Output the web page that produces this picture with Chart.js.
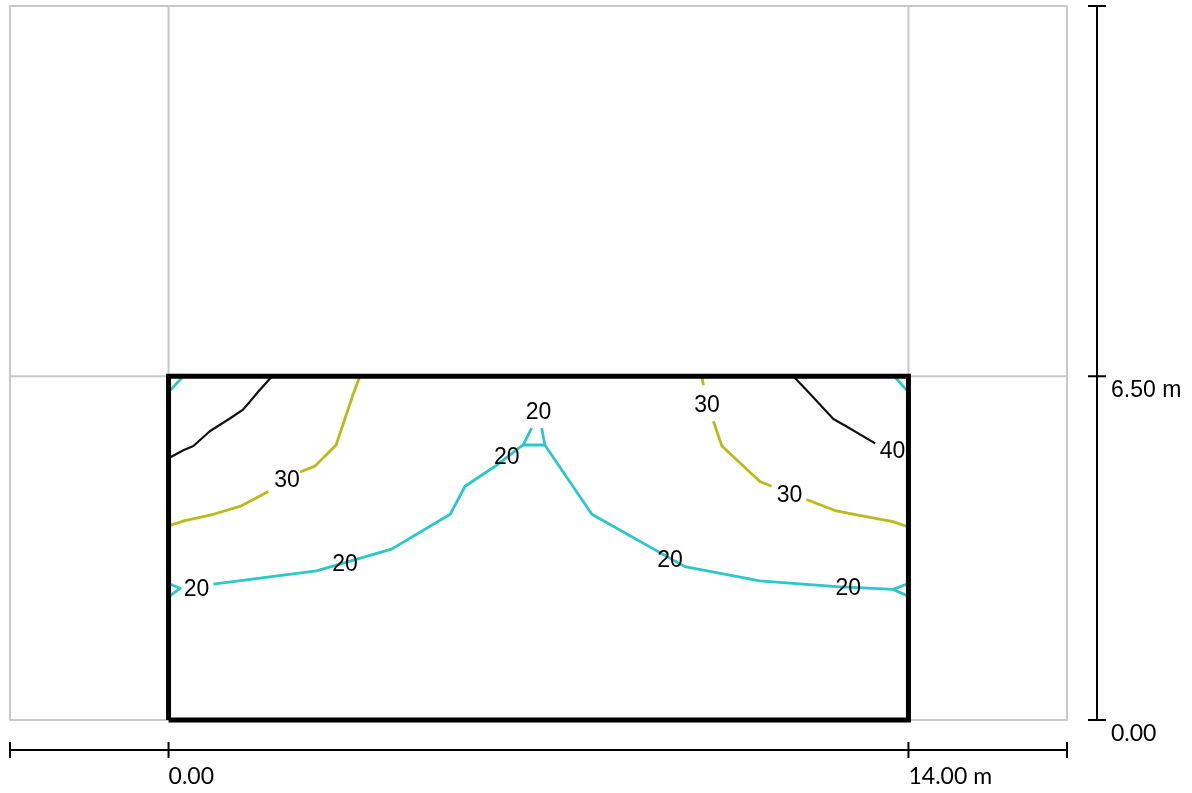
<!DOCTYPE html>
<html>
<head>
<meta charset="utf-8">
<script src="https://cdn.jsdelivr.net/npm/chart.js@4.4.0/dist/chart.umd.min.js"></script>
<style>
  html, body { margin: 0; padding: 0; background: #fff; }
  canvas { display: block; }
</style>
</head>
<body>
<canvas id="plan" width="1192" height="793"></canvas>
<script>
// site and building extents (m)
const siteX = [-3, 17];
const siteY = [0, 13.5];
const buildingX = [0, 14];
const buildingY = [0, 6.5];

// dimension lines
const xDimTicks = [-3, 0, 14, 17];
const xDimLabels = ["", "0.00", "14.00 m", ""];
const yDimTicks = [0, 6.5, 13.5];
const yDimLabels = ["0.00", "6.50 m", ""];

// contour polylines [x, y] in metres, null = break
const contour40Left = [[1.96, 6.5], [1.70, 6.21], [1.54, 6.02], [1.41, 5.87], [1.16, 5.70], [0.78, 5.46], [0.47, 5.18], [0.28, 5.10], [0, 4.95]];
const contour40Right = [[11.82, 6.5], [12.07, 6.24], [12.58, 5.69], [12.83, 5.55], [13.37, 5.23]];
const contour30Left = [[3.62, 6.5], [3.50, 6.18], [3.17, 5.20], [2.77, 4.80], [2.49, 4.69], null,
  [1.89, 4.32], [1.38, 4.05], [0.85, 3.89], [0.31, 3.77], [0, 3.67]];
const contour30Right = [[10.09, 6.5], [10.12, 6.33], null,
  [10.31, 5.65], [10.47, 5.18], [11.19, 4.51], [11.41, 4.42], null,
  [12.07, 4.17], [12.61, 3.96], [13.02, 3.88], [13.71, 3.75], [14, 3.65]];
const contour20Main = [[0, 2.58], [0.22, 2.49], [0, 2.33], null,
  [0.85, 2.57], [2.80, 2.82], [4.22, 3.23], [5.33, 3.89], [5.61, 4.42], [6.21, 4.82], [6.65, 5.16], [6.71, 5.20],
  [7.12, 5.20], [8.01, 3.89], [9.77, 2.90], [11.19, 2.63], [12.64, 2.52], [13.71, 2.47], [14, 2.58], null,
  [13.71, 2.47], [14, 2.34], null,
  [6.87, 5.52], [6.71, 5.20], null,
  [7.06, 5.52], [7.12, 5.20]];
const contour20Corners = [[0, 6.2], [0.28, 6.5], null, [13.73, 6.5], [14, 6.2]];

const contourLabels = [
  { text: "30", x: 2.24, y: 4.54 },
  { text: "20", x: 0.53, y: 2.49 },
  { text: "20", x: 3.34, y: 2.96 },
  { text: "20", x: 6.40, y: 4.98 },
  { text: "20", x: 7.00, y: 5.83 },
  { text: "20", x: 9.49, y: 3.04 },
  { text: "20", x: 12.86, y: 2.50 },
  { text: "30", x: 10.19, y: 5.97 },
  { text: "30", x: 11.75, y: 4.27 },
  { text: "40", x: 13.70, y: 5.09 }
];

const CYAN = "#2cc7c7";
const OLIVE = "#baba18";
const GREY = "#c8c8c8";

function pieces(points) {
    let out = [[]];
    points.forEach(p => {
        if (p === null) out.push([]);
        else out[out.length - 1].push({ x: p[0], y: p[1] });
    });
    return out.filter(s => s.length > 1);
}

function lineSets(points, color, width, order) {
    return pieces(points).map(seg => ({
        data: seg,
        showLine: true,
        borderColor: color,
        borderWidth: width,
        pointRadius: 0,
        fill: false,
        clip: false,
        order: order
    }));
}

const gridLines = [
    [siteX[0], siteY[0]], [siteX[1], siteY[0]], [siteX[1], siteY[1]], [siteX[0], siteY[1]], [siteX[0], siteY[0]], null,
    [buildingX[0], siteY[0]], [buildingX[0], siteY[1]], null,
    [buildingX[1], siteY[0]], [buildingX[1], siteY[1]], null,
    [siteX[0], buildingY[1]], [siteX[1], buildingY[1]]
];
const buildingOutline = [
    [buildingX[0], buildingY[0]], [buildingX[1], buildingY[0]], [buildingX[1], buildingY[1]],
    [buildingX[0], buildingY[1]], [buildingX[0], buildingY[0]]
];

const datasets = [].concat(
    lineSets(buildingOutline, "#000", 5, 0),
    lineSets(contour40Left, "#111", 2.2, 1),
    lineSets(contour40Right, "#111", 2.2, 1),
    lineSets(contour30Left, OLIVE, 2.8, 1),
    lineSets(contour30Right, OLIVE, 2.8, 1),
    lineSets(contour20Main, CYAN, 2.8, 1),
    lineSets(contour20Corners, CYAN, 2.8, 1),
    lineSets(gridLines, GREY, 2, 2)
);
datasets[0].borderJoinStyle = "miter";

const annotations = {
    id: "annotations",
    afterDatasetsDraw(chart) {
        const ctx = chart.ctx;
        const xs = chart.scales.x;
        const ys = chart.scales.y;
        const area = chart.chartArea;
        ctx.save();

        // contour labels
        ctx.fillStyle = "#000";
        ctx.font = "23px 'Liberation Sans', Arial, sans-serif";
        ctx.textAlign = "center";
        ctx.textBaseline = "middle";
        contourLabels.forEach(l => {
            ctx.fillText(l.text, xs.getPixelForValue(l.x), ys.getPixelForValue(l.y) + 1);
        });

        // bottom dimension line
        ctx.strokeStyle = "#000";
        ctx.lineWidth = 2;
        const by = area.bottom + 30;
        ctx.beginPath();
        ctx.moveTo(xs.getPixelForValue(xDimTicks[0]), by);
        ctx.lineTo(xs.getPixelForValue(xDimTicks[xDimTicks.length - 1]), by);
        xDimTicks.forEach(v => {
            const px = xs.getPixelForValue(v);
            ctx.moveTo(px, by - 8);
            ctx.lineTo(px, by + 8);
        });
        ctx.stroke();

        ctx.font = "23px Lato, 'Open Sans', sans-serif";
        ctx.textAlign = "left";
        xDimTicks.forEach((v, i) => {
            if (xDimLabels[i]) ctx.fillText(xDimLabels[i], xs.getPixelForValue(v), by + 27);
        });

        // right dimension line
        const rx = area.right + 30;
        ctx.beginPath();
        ctx.moveTo(rx, ys.getPixelForValue(yDimTicks[0]));
        ctx.lineTo(rx, ys.getPixelForValue(yDimTicks[yDimTicks.length - 1]));
        yDimTicks.forEach(v => {
            const py = ys.getPixelForValue(v);
            ctx.moveTo(rx - 9, py);
            ctx.lineTo(rx + 9, py);
        });
        ctx.stroke();

        yDimTicks.forEach((v, i) => {
            if (!yDimLabels[i]) return;
            ctx.font = i === 0 ? "23px Lato, 'Open Sans', sans-serif" : "23px 'Liberation Sans', Arial, sans-serif";
            ctx.fillText(yDimLabels[i], rx + 14, ys.getPixelForValue(v) + 14);
        });
        ctx.restore();
    }
};

new Chart(document.getElementById("plan"), {
    type: "scatter",
    data: { datasets: datasets },
    options: {
        responsive: false,
        animation: false,
        devicePixelRatio: 1,
        layout: { padding: { left: 10, right: 125, top: 6, bottom: 73 } },
        plugins: {
            legend: { display: false },
            tooltip: { enabled: false }
        },
        elements: { line: { tension: 0, borderCapStyle: "butt", borderJoinStyle: "round" } },
        scales: {
            x: { type: "linear", min: siteX[0], max: siteX[1], display: false },
            y: { type: "linear", min: siteY[0], max: siteY[1], display: false }
        }
    },
    plugins: [annotations]
});
</script>
</body>
</html>
